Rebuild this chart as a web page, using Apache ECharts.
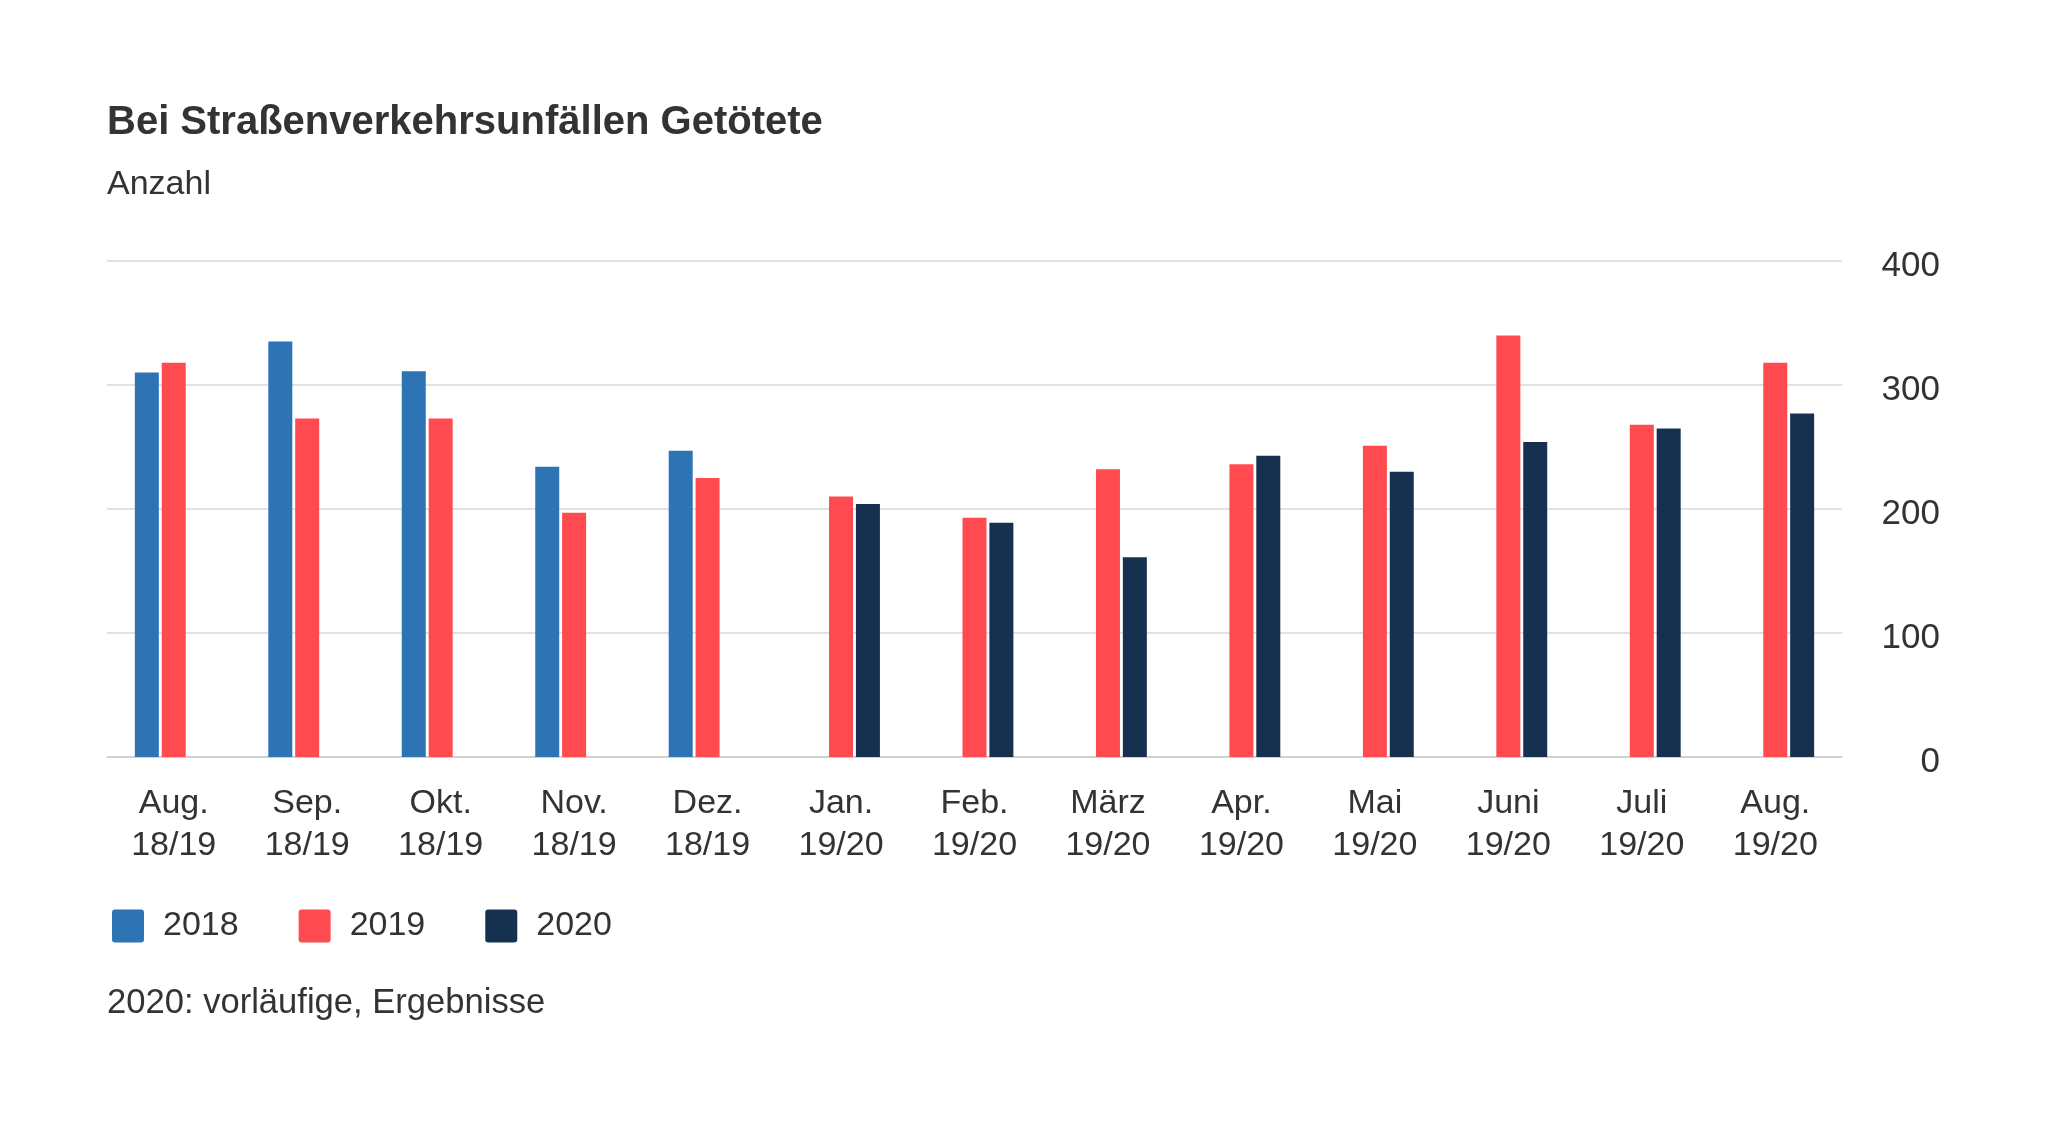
<!DOCTYPE html>
<html>
<head>
<meta charset="utf-8">
<script src="https://cdn.jsdelivr.net/npm/echarts@6/dist/echarts.min.js"></script>
<style>
html,body{margin:0;padding:0;background:#fff;}
#chart{width:2048px;height:1122px;}
</style>
</head>
<body>
<div id="chart"></div>
<script>
const months = ['Aug.', 'Sep.', 'Okt.', 'Nov.', 'Dez.', 'Jan.', 'Feb.', 'März', 'Apr.', 'Mai', 'Juni', 'Juli', 'Aug.'];
const periods = ['18/19', '18/19', '18/19', '18/19', '18/19', '19/20', '19/20', '19/20', '19/20', '19/20', '19/20', '19/20', '19/20'];
const seriesNames = ['2018', '2019', '2020'];
const values2018 = [310, 335, 311, 234, 247, null, null, null, null, null, null, null, null];
const values2019 = [318, 273, 273, 197, 225, 210, 193, 232, 236, 251, 340, 268, 318];
const values2020 = [null, null, null, null, null, 204, 189, 161, 243, 230, 254, 265, 277];
const yTicks = [0, 100, 200, 300, 400];

const titleText = 'Bei Straßenverkehrsunfällen Getötete';
const subtitleText = 'Anzahl';
const footnoteText = '2020: vorläufige, Ergebnisse';

const colors = ['#2e74b5', '#ff4a50', '#15314f'];
const FONT = '"Liberation Sans", Arial, sans-serif';
const TXT = '#333333';

const categories = months.map((m, i) => m + '\n' + periods[i]);
const allValues = [values2018, values2019, values2020];
const legendIcon = 'path://M3,0 H29 Q32,0 32,3 V30 Q32,33 29,33 H3 Q0,33 0,30 V3 Q0,0 3,0 Z';

const chart = echarts.init(document.getElementById('chart'), null, {renderer: 'canvas'});
chart.setOption({
  animation: false,
  backgroundColor: '#ffffff',
  color: colors,
  textStyle: {fontFamily: FONT},
  title: [
    {text: titleText, left: 102, top: 98,
     textStyle: {fontFamily: FONT, fontSize: 40, fontWeight: 'bold', color: TXT, lineHeight: 40}},
    {text: subtitleText, left: 102, top: 162,
     textStyle: {fontFamily: FONT, fontSize: 34, fontWeight: 'normal', color: TXT, lineHeight: 36}},
    {text: footnoteText, left: 102, top: 980,
     textStyle: {fontFamily: FONT, fontSize: 34.6, fontWeight: 'normal', color: TXT, lineHeight: 36}}
  ],
  legend: {
    left: 107, top: 904,
    itemWidth: 32, itemHeight: 33, itemGap: 60,
    icon: legendIcon,
    data: seriesNames,
    textStyle: {fontFamily: FONT, fontSize: 34, color: TXT, padding: [0, 0, 0, 14]}
  },
  grid: {left: 107, right: 206, top: 261, bottom: 365, containLabel: false},
  xAxis: {
    type: 'category',
    data: categories,
    axisTick: {show: false},
    axisLine: {show: true, lineStyle: {color: '#cccccc', width: 1.5}},
    axisLabel: {fontFamily: FONT, fontSize: 34, color: TXT, lineHeight: 42, margin: 26, interval: 0}
  },
  yAxis: {
    type: 'value',
    position: 'right',
    min: yTicks[0], max: yTicks[yTicks.length - 1], interval: yTicks[1] - yTicks[0],
    axisLine: {show: false},
    axisTick: {show: false},
    splitLine: {lineStyle: {color: '#d9d9d9', width: 1.5}},
    axisLabel: {fontFamily: FONT, fontSize: 35, color: TXT, align: 'right', margin: 98,
                verticalAlign: 'top', lineHeight: 10}
  },
  series: seriesNames.map((name, i) => ({
    name: name,
    type: 'bar',
    data: allValues[i],
    barWidth: 24,
    barGap: '12%',
    itemStyle: {color: colors[i]}
  }))
});
</script>
</body>
</html>
